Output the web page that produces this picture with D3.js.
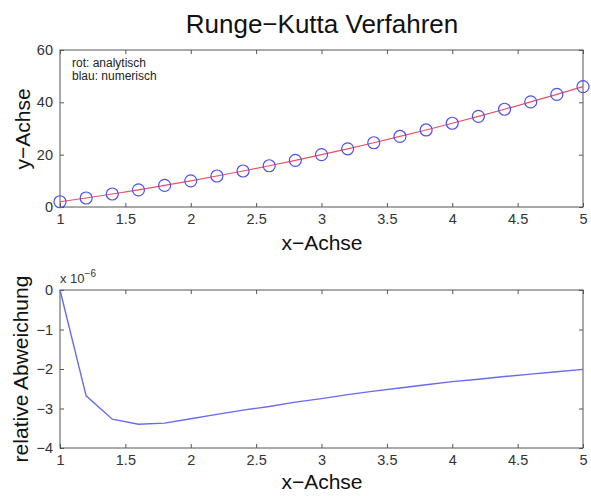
<!DOCTYPE html>
<html><head><meta charset="utf-8">
<script src="https://cdn.jsdelivr.net/npm/d3@7"></script>
<style>body{margin:0;background:#fff}svg{display:block}text{font-family:"Liberation Sans",Arial,sans-serif}</style>
</head><body><svg id="c" width="591" height="496"></svg>
<script>
const xValues = [1.0,1.2,1.4,1.6,1.8,2.0,2.2,2.4,2.6,2.8,3.0,3.2,3.4,3.6,3.8,4.0,4.2,4.4,4.6,4.8,5.0];
const yValues = [2,3.44,4.96,6.56,8.24,10,11.84,13.76,15.76,17.84,20,22.24,24.56,26.96,29.44,32,34.64,37.36,40.16,43.04,46];
const relDev = [0,-2.68,-3.27,-3.40,-3.37,-3.26,-3.15,-3.04,-2.95,-2.84,-2.75,-2.65,-2.56,-2.48,-2.40,-2.32,-2.26,-2.19,-2.13,-2.07,-2.01];
const xTicks = [1,1.5,2,2.5,3,3.5,4,4.5,5];
const yTicksTop = [0,20,40,60];
const yTicksBottom = [0,-1,-2,-3,-4];

const svg = d3.select("#c");
const axisCol = "#555";
const L = 60, R = 583;

function panel(top, bottom, ydom, yticks) {
  const x = d3.scaleLinear().domain([1,5]).range([L,R]);
  const y = d3.scaleLinear().domain(ydom).range([bottom, top]);
  const g = svg.append("g");
  g.append("rect").attr("x",L).attr("y",top).attr("width",R-L).attr("height",bottom-top)
    .attr("fill","none").attr("stroke",axisCol).attr("stroke-width",1);
  const ax = [
    [d3.axisBottom(x).tickValues(xTicks).tickSize(-4).tickPadding(7).tickFormat(d3.format("")), `translate(0,${bottom})`],
    [d3.axisTop(x).tickValues(xTicks).tickSize(-4).tickFormat(""), `translate(0,${top})`],
    [d3.axisLeft(y).tickValues(yticks).tickSize(-4).tickPadding(7).tickFormat(d3.format("")), `translate(${L},0)`],
    [d3.axisRight(y).tickValues(yticks).tickSize(-4).tickFormat(""), `translate(${R},0)`]
  ];
  ax.forEach(([a,t]) => {
    const ag = g.append("g").attr("transform",t).call(a);
    ag.select(".domain").remove();
    ag.selectAll("line").attr("stroke",axisCol);
    ag.selectAll("text").attr("fill","#333").style("font-size","14.5px").style("font-family",'"Liberation Sans",Arial,sans-serif');
  });
  return {x,y,g};
}

// title
svg.append("text").attr("x",322).attr("y",33).attr("text-anchor","middle")
  .style("font-size","26px").attr("fill","#111").text("Runge\u2212Kutta Verfahren");

// top panel
const p1 = panel(50, 207, [0,60], yTicksTop);
p1.g.append("path").datum(xValues.map((v,i)=>[v,yValues[i]]))
  .attr("d", d3.line().x(d=>p1.x(d[0])).y(d=>p1.y(d[1])))
  .attr("fill","none").attr("stroke","#e8506a").attr("stroke-width",1.2);
p1.g.selectAll("circle").data(xValues.map((v,i)=>[v,yValues[i]])).join("circle")
  .attr("cx",d=>p1.x(d[0])).attr("cy",d=>p1.y(d[1])).attr("r",6)
  .attr("fill","none").attr("stroke","#5050ee").attr("stroke-width",1.2);
p1.g.append("text").attr("x",72).attr("y",67).style("font-size","12px").attr("fill","#222").text("rot: analytisch");
p1.g.append("text").attr("x",72).attr("y",80).style("font-size","12px").attr("fill","#222").text("blau: numerisch");
svg.append("text").attr("x",322).attr("y",250).attr("text-anchor","middle").style("font-size","21px").attr("fill","#111").text("x\u2212Achse");
svg.append("text").attr("transform","translate(30,129) rotate(-90)").attr("text-anchor","middle").style("font-size","21px").attr("fill","#111").text("y\u2212Achse");

// bottom panel
const p2 = panel(290, 448, [-4,0], yTicksBottom);
p2.g.append("path").datum(xValues.map((v,i)=>[v,relDev[i]]))
  .attr("d", d3.line().x(d=>p2.x(d[0])).y(d=>p2.y(d[1])))
  .attr("fill","none").attr("stroke","#6a6af0").attr("stroke-width",1.4);
const ex = svg.append("text").attr("x",60).attr("y",283).style("font-size","13px").attr("fill","#333");
ex.append("tspan").text("x 10");
ex.append("tspan").attr("dy",-6).style("font-size","10px").text("\u22126");
svg.append("text").attr("x",322).attr("y",489).attr("text-anchor","middle").style("font-size","21px").attr("fill","#111").text("x\u2212Achse");
svg.append("text").attr("transform","translate(28,369) rotate(-90)").attr("text-anchor","middle").style("font-size","21px").attr("fill","#111").text("relative Abweichung");
</script></body></html>
